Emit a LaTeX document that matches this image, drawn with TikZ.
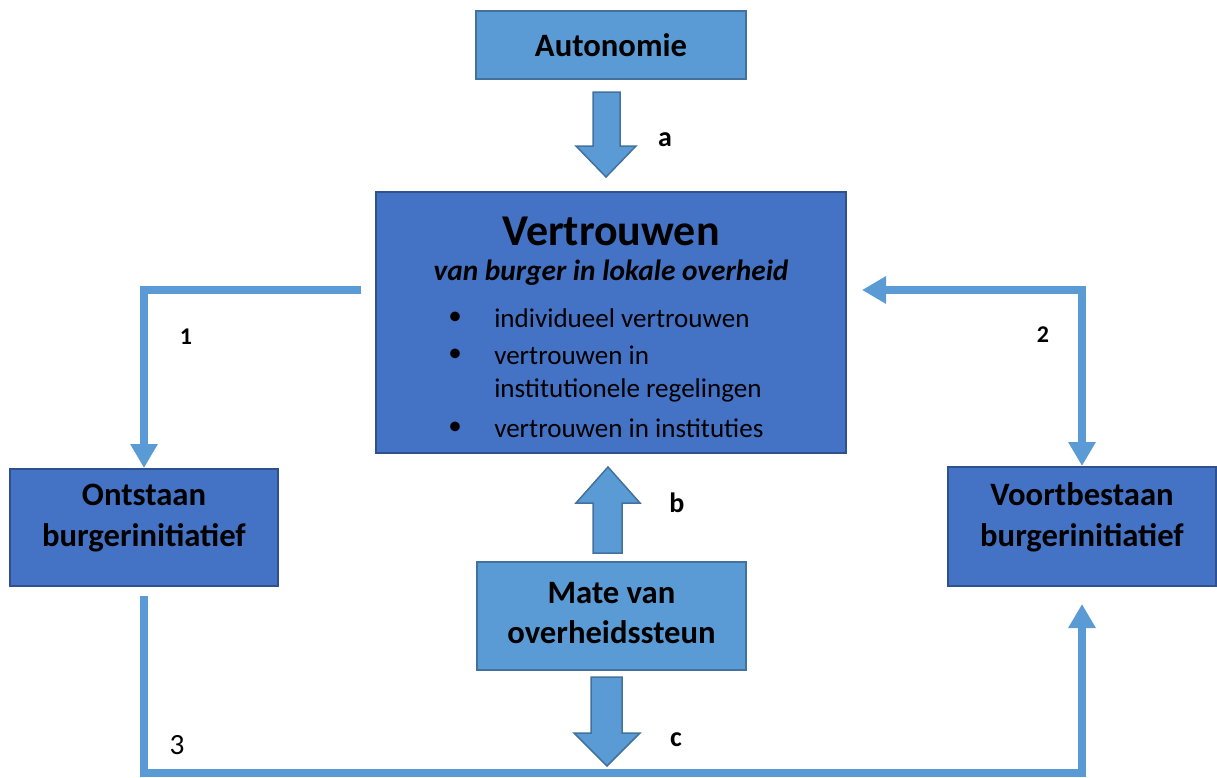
\documentclass[tikz,border=0pt]{standalone}
\usepackage{fontspec}
\setmainfont{Carlito}
\usetikzlibrary{arrows.meta}
\newdimen\px \px=0.75pt
\definecolor{lightfill}{HTML}{5B9BD5}
\definecolor{lightedge}{HTML}{41719C}
\definecolor{darkfill}{HTML}{4472C4}
\definecolor{darkedge}{HTML}{2F528F}
\definecolor{connclr}{HTML}{5B9BD5}
\tikzset{
  lightbox/.style={draw=lightedge, fill=lightfill, line width=2\px, inner sep=0pt, align=center, font=\bfseries\fontsize{24.5}{30}\selectfont},
  darkbox/.style={draw=darkedge, fill=darkfill, line width=2\px, inner sep=0pt, align=center, font=\bfseries\fontsize{24.5}{31}\selectfont},
  conn/.style={draw=connclr, line width=6pt, line join=miter, >={Triangle[width=19.5pt,length=18pt]}},
  blockarrow/.style={fill=lightfill, draw=lightedge, line width=1.5\px, line join=miter},
  lbl/.style={font=\bfseries\fontsize{21}{24}\selectfont, inner sep=0pt},
  bul/.style={font=\fontsize{20.3}{24}\selectfont, inner sep=0pt, anchor=west}
}
\begin{document}
\begin{tikzpicture}[x=0.75pt,y=-0.75pt]
\useasboundingbox (0,0) rectangle (1217,778);

% boxes
\node[lightbox, minimum width=270\px, minimum height=68\px] (A) at (611,45) {Autonomie};
\node[darkbox, minimum width=470\px, minimum height=261\px] (V) at (611,322.5) {};
\node[darkbox, minimum width=268\px, minimum height=117\px] (O) at (144,527.5) {Ontstaan\\burgerinitiatief\rule[-18pt]{0pt}{1pt}};
\node[darkbox, minimum width=268\px, minimum height=119\px] (VB) at (1082,526.5) {Voortbestaan\\burgerinitiatief\rule[-18pt]{0pt}{1pt}};
\node[lightbox, minimum width=269\px, minimum height=108\px] (M) at (611.5,616) {Mate van\\overheidssteun\rule[-4pt]{0pt}{1pt}};

% text in Vertrouwen box
\node[font=\bfseries\fontsize{33}{36}\selectfont, inner sep=0pt] (Vt) at (611,231) {Vertrouwen};
\node[font=\bfseries\itshape\fontsize{22}{26}\selectfont, inner sep=0pt] (Vs) at (611,273) {van burger in lokale overheid};
\node[bul] (b1d) at (448,318) {•};
\node[bul] (b1) at (494,318) {individueel vertrouwen};
\node[bul] (b2d) at (448,355) {•};
\node[bul] (b2) at (494,355) {vertrouwen in};
\node[bul] (b2b) at (494,390) {institutionele regelingen};
\node[bul] (b3d) at (448,428) {•};
\node[bul] (b3) at (494,428) {vertrouwen in instituties};

% block arrows
\draw[blockarrow] (593,92) -- (620,92) -- (620,146) -- (636,146) -- (606,177) -- (576,146) -- (593,146) -- cycle;
\draw[blockarrow] (593,553) -- (622,553) -- (622,503) -- (640,503) -- (608,467) -- (576,503) -- (593,503) -- cycle;
\draw[blockarrow] (591,677) -- (622,677) -- (622,733) -- (640,733) -- (607,766) -- (574,733) -- (591,733) -- cycle;

% connectors
\coordinate (l1) at (361,290);
\coordinate (r1) at (862,290);
\coordinate (s1) at (144,596);
\coordinate (s2) at (144,773);
\coordinate (e2) at (1082,604);
\draw[conn, ->] (l1) -| (O.north);
\draw[conn, <->] (r1) -| (VB.north);
\draw[conn, ->] (s1) -- (s2) -| (e2);

% labels
\node[lbl] (la) at (665,140) {a};
\node[lbl] (lb) at (677,503) {b};
\node[lbl] (lc) at (676,740) {c};
\node[lbl, font=\bfseries\fontsize{18}{20}\selectfont] (l1t) at (186,337) {1};
\node[lbl, font=\bfseries\fontsize{18}{20}\selectfont] (l2t) at (1043,335) {2};
\node[font=\fontsize{22}{24}\selectfont, inner sep=0pt] (l3t) at (177,745) {3};
\end{tikzpicture}
\end{document}
